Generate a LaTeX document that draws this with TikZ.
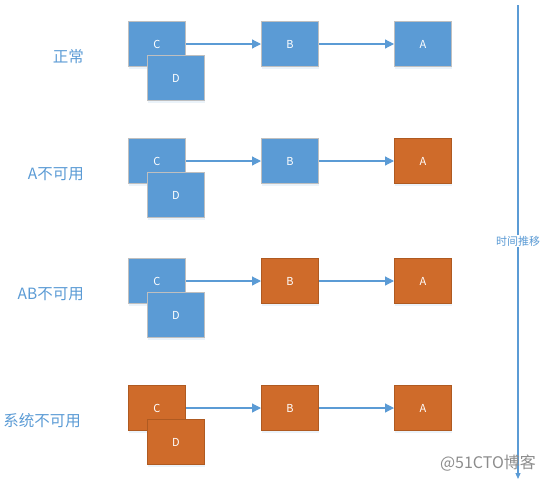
\documentclass[tikz,border=0pt]{standalone}
\usepackage{fontspec}
\setmainfont{Noto Sans CJK SC}
\usetikzlibrary{arrows.meta,shadows}

\definecolor{boxblue}{HTML}{5B9BD5}
\definecolor{boxgray}{HTML}{BFBFBF}
\definecolor{boxorange}{HTML}{CF6B2A}
\definecolor{edgeorange}{HTML}{AF5A21}

\tikzset{
  srv/.style={minimum width=57pt, minimum height=45pt, inner sep=0pt, line width=1pt,
    text=white, font=\fontsize{11}{12}\selectfont,
    drop shadow={shadow xshift=0pt, shadow yshift=-2pt, opacity=.12, fill=boxblue}},
  ok/.style={srv, draw=boxgray, fill=boxblue},
  down/.style={srv, draw=edgeorange, fill=boxorange},
  link/.style={draw=boxblue, line width=1.2pt, -{Triangle[length=9pt,width=9pt]}},
  phase/.style={text=boxblue, font=\fontsize{15.5}{18}\selectfont, inner sep=0pt}
}

\begin{document}
\begin{tikzpicture}[x=1pt, y=-1pt]
  \useasboundingbox (0,0) rectangle (548,482);

  \foreach \r/\y/\sc/\sb/\sa/\txt/\px in {1/21/ok/ok/ok/正常/84, 2/138/ok/ok/down/A不可用/84,
      3/258/ok/down/down/AB不可用/84, 4/385/down/down/down/系统不可用/81}{
    \node[\sc] (c\r) at (157,{\y+23}) {C};
    \node[\sc] (d\r) at (176,{\y+57}) {D};
    \node[\sb] (b\r) at (290,{\y+23}) {B};
    \node[\sa] (a\r) at (423,{\y+23}) {A};
    \draw[link] (c\r) -- (b\r);
    \draw[link] (b\r) -- (a\r);
    \node[phase, anchor=east] (p\r) at (\px,{\y+36}) {\txt};
  }

  % time axis
  \coordinate (t0) at (518,5);
  \coordinate (t1) at (518,479);
  \draw[link, line width=1.1pt, -{Triangle[length=6pt,width=5pt]}] (t0) -- (t1);
  \node[fill=white, text=boxblue, font=\fontsize{11}{13}\selectfont, inner sep=1pt] (tl) at (518,241) {时间推移};

  \node[text=black!45, font=\fontsize{16}{18}\selectfont, inner sep=0pt] (wm) at (488,463) {@51CTO博客};
\end{tikzpicture}
\end{document}
